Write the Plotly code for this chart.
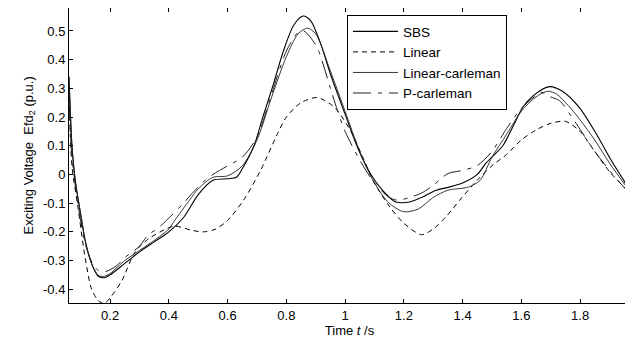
import plotly.graph_objects as go

# SBS
t_sbs = [0.06, 0.07, 0.08, 0.09, 0.10, 0.115, 0.13, 0.145, 0.16, 0.18, 0.20, 0.25, 0.30, 0.35, 0.40, 0.45,
         0.50, 0.55, 0.60, 0.63, 0.65, 0.69, 0.72, 0.756, 0.79, 0.825, 0.857, 0.883, 0.917, 0.95, 1.0,
         1.04, 1.08, 1.127, 1.17, 1.22, 1.26, 1.31, 1.35, 1.40, 1.45, 1.48, 1.537, 1.57, 1.605, 1.64,
         1.696, 1.74, 1.797, 1.855, 1.90, 1.934, 1.97]
y_sbs = [0.34, 0.10, -0.01, -0.08, -0.14, -0.23, -0.29, -0.33, -0.355, -0.36, -0.35, -0.31, -0.27, -0.235,
         -0.20, -0.15, -0.07, -0.02, -0.015, -0.01, 0.02, 0.10, 0.20, 0.315, 0.43, 0.52, 0.552, 0.535, 0.455,
         0.35, 0.21, 0.10, 0.014, -0.055, -0.095, -0.096, -0.08, -0.055, -0.045, -0.03, 0.0, 0.04, 0.10,
         0.164, 0.234, 0.274, 0.306, 0.29, 0.234, 0.142, 0.06, 0.003, -0.055]

# Linear
t_lin = [0.06, 0.07, 0.09, 0.115, 0.137, 0.16, 0.18, 0.20, 0.24, 0.285, 0.33, 0.39, 0.42, 0.48, 0.52,
         0.56, 0.60, 0.654, 0.712, 0.77, 0.80, 0.85, 0.905, 0.95, 0.974, 1.02, 1.06, 1.10, 1.15, 1.20,
         1.26, 1.30, 1.343, 1.39, 1.45, 1.50, 1.55, 1.60, 1.65, 1.70, 1.75, 1.80, 1.85, 1.90, 1.97]
y_lin = [0.30, 0.03, -0.11, -0.29, -0.40, -0.44, -0.45, -0.43, -0.37, -0.27, -0.225, -0.19, -0.18, -0.195,
         -0.20, -0.19, -0.16, -0.09, 0.014, 0.142, 0.20, 0.25, 0.268, 0.245, 0.222, 0.15, 0.06, -0.03, -0.11,
         -0.17, -0.21, -0.19, -0.148, -0.09, -0.02, 0.03, 0.07, 0.12, 0.155, 0.178, 0.185, 0.15, 0.08, 0.01,
         -0.065]

# Linear-carleman
t_lc = [0.06, 0.07, 0.08, 0.09, 0.10, 0.115, 0.13, 0.145, 0.16, 0.18, 0.20, 0.25, 0.30, 0.35, 0.40, 0.42,
        0.47, 0.50, 0.55, 0.60, 0.65, 0.70, 0.75, 0.80, 0.84, 0.872, 0.90, 0.95, 1.0, 1.05, 1.10, 1.15,
        1.20, 1.25, 1.30, 1.35, 1.42, 1.46, 1.50, 1.55, 1.60, 1.65, 1.69, 1.72, 1.76, 1.80, 1.85, 1.90, 1.97]
y_lc = [0.34, 0.10, -0.01, -0.08, -0.14, -0.23, -0.29, -0.33, -0.352, -0.355, -0.345, -0.30, -0.265, -0.23,
        -0.19, -0.16, -0.09, -0.05, -0.01, -0.005, 0.03, 0.12, 0.27, 0.41, 0.49, 0.51, 0.49, 0.36, 0.22,
        0.08, -0.03, -0.10, -0.13, -0.12, -0.08, -0.055, -0.044, -0.02, 0.06, 0.14, 0.22, 0.27, 0.29, 0.28,
        0.24, 0.19, 0.12, 0.04, -0.06]

# P-carleman
t_pc = [0.06, 0.07, 0.09, 0.115, 0.14, 0.16, 0.18, 0.22, 0.25, 0.30, 0.33, 0.36, 0.41, 0.45, 0.478, 0.524,
        0.55, 0.60, 0.65, 0.70, 0.75, 0.80, 0.84, 0.86, 0.88, 0.906, 0.95, 0.975, 1.0, 1.05, 1.10, 1.15,
        1.18, 1.22, 1.26, 1.30, 1.35, 1.40, 1.45, 1.50, 1.55, 1.60, 1.65, 1.67, 1.70, 1.73, 1.787, 1.84,
        1.90, 1.958, 1.97]
y_pc = [0.25, 0.06, -0.10, -0.24, -0.31, -0.335, -0.34, -0.32, -0.29, -0.25, -0.21, -0.19, -0.142, -0.10,
        -0.067, -0.02, 0.0, 0.03, 0.06, 0.13, 0.28, 0.43, 0.495, 0.50, 0.48, 0.44, 0.30, 0.22, 0.15, 0.05,
        -0.03, -0.08, -0.09, -0.08, -0.065, -0.038, 0.003, 0.014, 0.031, 0.08, 0.16, 0.23, 0.275, 0.286,
        0.27, 0.257, 0.177, 0.095, 0.014, -0.055, -0.07]

x_ticks = [0.2, 0.4, 0.6, 0.8, 1.0, 1.2, 1.4, 1.6, 1.8]
x_tick_labels = ["0.2", "0.4", "0.6", "0.8", "1", "1.2", "1.4", "1.6", "1.8"]
y_ticks = [-0.4, -0.3, -0.2, -0.1, 0, 0.1, 0.2, 0.3, 0.4, 0.5]
y_tick_labels = ["-0.4", "-0.3", "-0.2", "-0.1", "0", "0.1", "0.2", "0.3", "0.4", "0.5"]

FONT = "Liberation Sans, Arial, sans-serif"

fig = go.Figure()
fig.add_trace(go.Scatter(x=t_sbs, y=y_sbs, name="SBS", mode="lines",
                         line=dict(color="black", width=1.1, shape="spline", smoothing=0.8)))
fig.add_trace(go.Scatter(x=t_lin, y=y_lin, name="Linear", mode="lines",
                         line=dict(color="black", width=1, dash="5px,4px", shape="spline", smoothing=0.8)))
fig.add_trace(go.Scatter(x=t_lc, y=y_lc, name="Linear-carleman", mode="lines",
                         line=dict(color="#222", width=0.9, shape="spline", smoothing=0.8)))
fig.add_trace(go.Scatter(x=t_pc, y=y_pc, name="P-carleman", mode="lines",
                         line=dict(color="#222", width=1, dash="18px,7px,4px,7px", shape="spline", smoothing=0.8)))

axis_common = dict(showline=True, linecolor="black", linewidth=1, mirror="ticks", ticks="inside",
                   ticklen=4, tickcolor="black", showgrid=False, zeroline=False,
                   tickfont=dict(family=FONT, size=13, color="black"))

# The page body has a default 8px margin, so the figure is sized 8px smaller.
fig.update_layout(
    width=625, height=337,
    margin=dict(l=61, r=3, t=0, b=42),
    plot_bgcolor="white", paper_bgcolor="white",
    font=dict(family=FONT, size=13, color="black"),
    xaxis=dict(range=[0.06, 1.97], tickvals=x_ticks, ticktext=x_tick_labels,
               title=dict(text="Time <i>t</i> /s", standoff=4, font=dict(size=13)), **axis_common),
    yaxis=dict(range=[-0.448, 0.58], tickvals=y_ticks, ticktext=y_tick_labels, **axis_common),
    legend=dict(x=0.4955, y=0.976, xanchor="left", yanchor="top", bgcolor="white",
                bordercolor="black", borderwidth=1, font=dict(size=13.5), tracegroupgap=0,
                itemwidth=45),
    showlegend=True,
    annotations=[dict(text="Exciting Voltage  Efd<sub>2</sub> (p.u.)", xref="paper", yref="paper",
                      x=-0.0713, y=0.50, xanchor="center", yanchor="middle", textangle=-90,
                      showarrow=False, font=dict(size=13, family=FONT))],
)

fig.write_html("out.html")
